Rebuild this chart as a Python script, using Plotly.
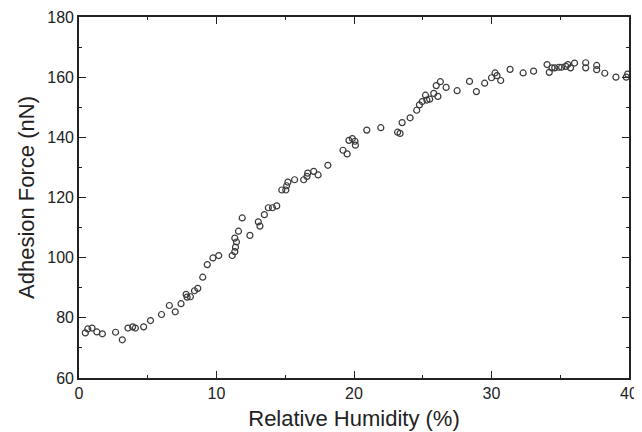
import plotly.graph_objects as go

# relative humidity (%) and adhesion force (nN)
humidity = [0.46, 0.64, 0.95, 1.3, 1.7, 2.66, 3.15, 3.56, 3.9, 4.1, 4.7, 5.2, 6.0,
            6.57, 7.0, 7.42, 7.79, 7.86, 8.1, 8.4, 8.64, 9.0, 9.33, 9.74, 10.16,
            11.14, 11.33, 11.38, 11.45, 11.33, 11.6, 11.87, 12.43, 13.04, 13.16,
            13.48, 13.77, 14.07, 14.38, 14.75, 15.04, 15.1, 15.19, 15.68, 16.34,
            16.58, 16.63, 17.07, 17.39, 18.1, 19.2, 19.5, 19.63, 19.88, 20.07,
            20.1, 20.93, 21.95, 23.17, 23.35, 23.5, 24.08, 24.56, 24.76, 24.96,
            25.2, 25.3, 25.5, 25.8, 26.1, 25.98, 26.28, 26.7, 27.5, 28.4, 28.9,
            29.5, 30.0, 30.26, 30.4, 30.67, 31.35, 32.3, 33.06, 34.04, 34.2,
            34.4, 34.6, 34.9, 35.1, 35.4, 35.55, 35.75, 36.04, 36.85, 36.85,
            37.65, 37.65, 38.24, 39.05, 39.8, 39.9]
force = [75.0, 76.3, 76.6, 75.3, 74.7, 75.2, 72.7, 76.6, 77.0, 76.6, 77.0, 79.1, 81.1,
         84.1, 82.0, 84.7, 87.8, 86.9, 87.0, 89.0, 89.8, 93.5, 97.7, 99.9, 100.7,
         100.7, 102.0, 103.5, 105.2, 106.5, 108.8, 113.2, 107.4, 111.9, 110.5,
         114.3, 116.6, 116.6, 117.2, 122.5, 122.5, 123.9, 125.1, 125.9, 125.9,
         127.0, 128.1, 128.7, 127.5, 130.7, 135.7, 134.5, 139.0, 139.6, 138.7,
         137.4, 142.4, 143.2, 141.7, 141.3, 144.9, 146.5, 149.0, 150.8, 151.9,
         154.0, 152.4, 152.7, 154.6, 153.6, 157.2, 158.5, 156.6, 155.5, 158.6, 155.2,
         158.0, 159.8, 161.4, 160.5, 158.9, 162.6, 161.4, 162.0, 164.2, 161.6,
         163.1, 163.1, 163.3, 163.3, 163.6, 164.2, 163.1, 164.7, 164.8, 163.1,
         163.9, 162.5, 161.3, 160.0, 160.0, 161.0]

x_ticks = [0, 10, 20, 30, 40]
y_ticks = [60, 80, 100, 120, 140, 160, 180]

font_name = "Liberation Sans, Arial, Helvetica"
ink = "#222222"

fig = go.Figure()
fig.add_trace(go.Scatter(
    x=humidity, y=force, mode="markers",
    marker=dict(symbol="circle-open", size=6, color="#3a3a3a", line=dict(width=1.2)),
    showlegend=False,
))

axis_common = dict(
    showline=True, linecolor=ink, linewidth=1.6, mirror="ticks",
    ticks="inside", ticklen=7, tickwidth=1.3, tickcolor=ink,
    showgrid=False, zeroline=False, automargin=False,
    tickfont=dict(family=font_name, size=16, color=ink),
)

# the page body offsets the figure by ~8px, margins are trimmed to compensate
fig.update_layout(
    width=634, height=432,
    margin=dict(l=71, r=13, t=9, b=62),
    paper_bgcolor="white", plot_bgcolor="white",
    xaxis=dict(range=[0, 40], tickvals=x_ticks,
               minor=dict(ticks="inside", dtick=5, ticklen=3, tickcolor=ink),
               title=dict(text="Relative Humidity (%)", standoff=10,
                          font=dict(family=font_name, size=22, color=ink)),
               **axis_common),
    yaxis=dict(range=[60, 180], tickvals=y_ticks,
               minor=dict(ticks="inside", dtick=10, ticklen=3, tickcolor=ink),
               title=dict(text="Adhesion Force (nN)", standoff=7,
                          font=dict(family=font_name, size=22, color=ink)),
               **axis_common),
)

fig.write_html("out.html")
